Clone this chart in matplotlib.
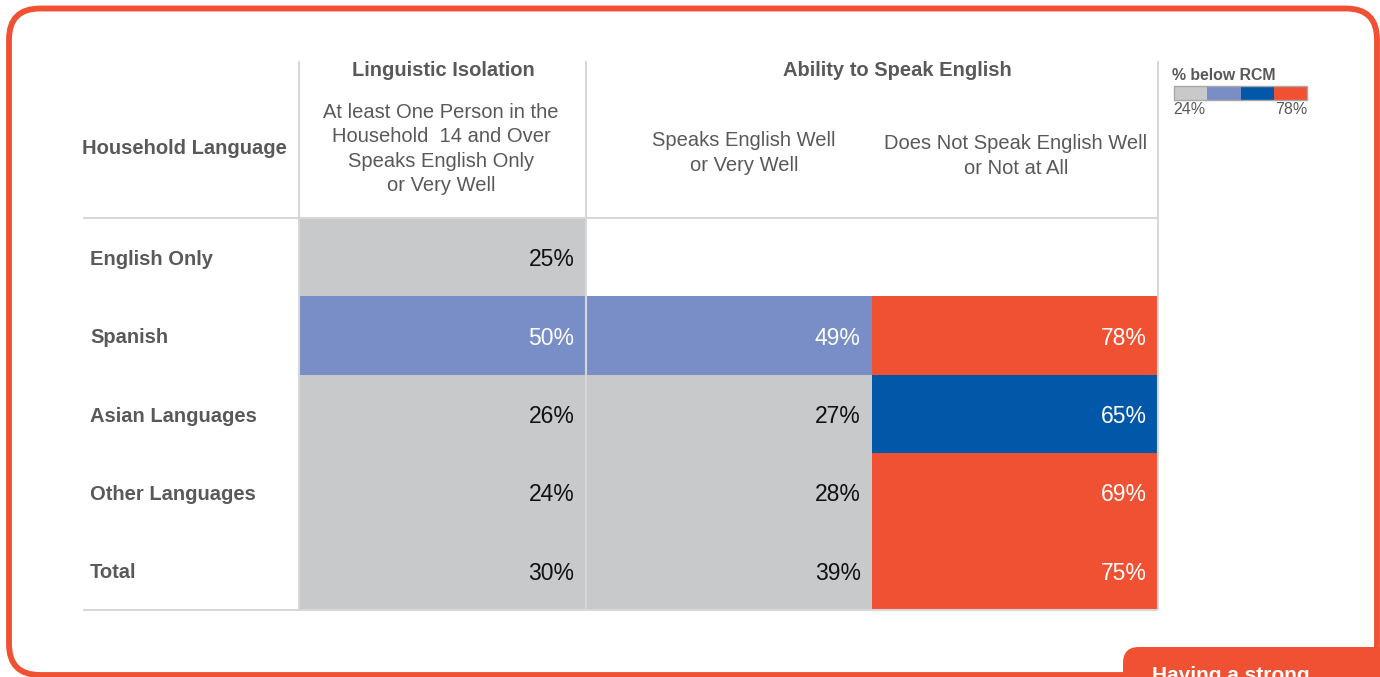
import numpy as np
import matplotlib
matplotlib.use("Agg")
import matplotlib.pyplot as plt
from matplotlib.colors import ListedColormap, BoundaryNorm
from matplotlib.patches import FancyBboxPatch, Rectangle

plt.rcParams["font.family"] = ["Liberation Sans", "DejaVu Sans"]

# ---- data -------------------------------------------------------------
row_labels = ["English Only", "Spanish", "Asian Languages", "Other Languages", "Total"]
col_labels = [
    "At least One Person in the\nHousehold  14 and Over\nSpeaks English Only\nor Very Well",
    "Speaks English Well\nor Very Well",
    "Does Not Speak English Well\nor Not at All",
]
group_labels = ["Linguistic Isolation", "Ability to Speak English"]
linguistic_isolation = [25, 50, 26, 24, 30]
speaks_well = [np.nan, 49, 27, 28, 39]
not_well = [np.nan, 78, 65, 69, 75]
legend_title = "% below RCM"

# colour bins for "% below RCM"
bin_colors = ["#c8c9cb", "#798ec6", "#0157a8", "#f05133"]
bin_edges = [0, 45, 60, 67, 100]

ORANGE = "#f05133"
GRID = "#d7d7d7"
TXT = "#595959"

W, H = 1380, 677
fig = plt.figure(figsize=(W / 100, H / 100), dpi=100)
bg = fig.add_axes([0, 0, 1, 1])
bg.set_xlim(0, W)
bg.set_ylim(H, 0)
bg.axis("off")

# rounded frame
bg.add_patch(FancyBboxPatch((9, 8.5), 1368, 666.5,
                            boxstyle="round,pad=0,rounding_size=31",
                            fc="white", ec=ORANGE, lw=4.2, zorder=0))

# ---- table cells ------------------------------------------------------
x0, x1, y0, y1 = 299, 1158, 218, 610
values = np.ma.masked_invalid(np.column_stack([linguistic_isolation, speaks_well, not_well]))
cmap = ListedColormap(bin_colors)
norm = BoundaryNorm(bin_edges, cmap.N)

axc = fig.add_axes([x0 / W, 1 - y1 / H, (x1 - x0) / W, (y1 - y0) / H])
axc.pcolormesh(np.arange(values.shape[1] + 1), np.arange(values.shape[0] + 1),
               values, cmap=cmap, norm=norm, edgecolors="none")
axc.set_xlim(0, values.shape[1])
axc.set_ylim(values.shape[0], 0)
axc.axis("off")
for i in range(values.shape[0]):
    for j in range(values.shape[1]):
        v = values[i, j]
        if np.ma.is_masked(v):
            continue
        color = "white" if v >= bin_edges[1] else "#111111"
        axc.text(j + 0.962, i + 0.5, f"{v:.0f}%", ha="right", va="center_baseline",
                 fontsize=16.5, color=color)

# ---- grid lines (overlay so they sit above the cells) ----------------
ov = fig.add_axes([0, 0, 1, 1])
ov.set_xlim(0, W)
ov.set_ylim(H, 0)
ov.axis("off")
ov.patch.set_alpha(0)
for xv in (299, 586, 1158):
    ov.plot([xv, xv], [61, 610], color=GRID, lw=1.5, solid_capstyle="butt")
for yv in (218, 610):
    ov.plot([83, 1158], [yv, yv], color=GRID, lw=1.5, solid_capstyle="butt")

# ---- headers ----------------------------------------------------------
ov.text(443, 70, group_labels[0], ha="center", va="center", fontsize=14.5,
        fontweight="bold", color=TXT)
ov.text(897, 70, group_labels[1], ha="center", va="center", fontsize=14.5,
        fontweight="bold", color=TXT)
ov.text(82, 149, "Household Language", ha="left", va="center", fontsize=14.5,
        fontweight="bold", color=TXT)
ov.text(441, 149, col_labels[0], ha="center", va="center", fontsize=14.5,
        color=TXT, linespacing=1.36, multialignment="center")
ov.text(744, 153, col_labels[1], ha="center", va="center", fontsize=14.5,
        color=TXT, linespacing=1.36, multialignment="center")
ov.text(1016, 156, col_labels[2], ha="center", va="center", fontsize=14.5,
        color=TXT, linespacing=1.36, multialignment="center")

row_h = (y1 - y0) / len(row_labels)
for i, lab in enumerate(row_labels):
    ov.text(90, y0 + row_h * (i + 0.5), lab, ha="left", va="center_baseline",
            fontsize=14.5, fontweight="bold", color=TXT)

# ---- legend -----------------------------------------------------------
ov.text(1172, 75, legend_title, ha="left", va="center", fontsize=11.4,
        fontweight="bold", color=TXT)
lx0, lx1, ly0, ly1 = 1174, 1307, 86, 100
seg = (lx1 - lx0) / len(bin_colors)
for k, c in enumerate(bin_colors):
    ov.add_patch(Rectangle((lx0 + k * seg, ly0), seg, ly1 - ly0, fc=c, ec="none", zorder=3))
ov.add_patch(Rectangle((lx0, ly0), lx1 - lx0, ly1 - ly0, fc="none", ec="#a8a8a8", lw=1, zorder=4))
all_vals = np.concatenate([linguistic_isolation, speaks_well, not_well])
ov.text(lx0 - 1, 110, f"{np.nanmin(all_vals):.0f}%", ha="left", va="center",
        fontsize=11.5, color=TXT)
ov.text(lx1, 110, f"{np.nanmax(all_vals):.0f}%", ha="right", va="center",
        fontsize=11.5, color=TXT)

# ---- call-out box at the lower right ----------------------------------
ov.add_patch(FancyBboxPatch((1123, 647), 300, 80,
                            boxstyle="round,pad=0,rounding_size=16",
                            fc=ORANGE, ec="none", zorder=6))
ov.text(1152, 681, "Having a strong", ha="left", va="baseline", fontsize=15,
        fontweight="bold", color="white", zorder=7)

fig.savefig("out.png", dpi=100)
